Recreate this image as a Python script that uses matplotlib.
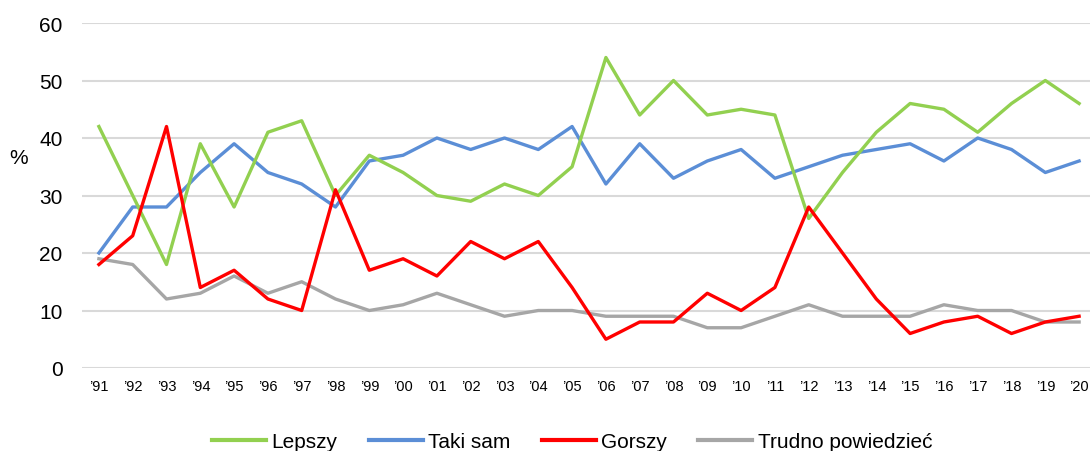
import matplotlib
matplotlib.use("Agg")
import matplotlib.pyplot as plt
from matplotlib.lines import Line2D

plt.rcParams['font.family'] = ['Liberation Sans', 'DejaVu Sans']

years = ["\u2019%02d" % (y % 100) for y in range(1991, 2021)]
lepszy = [42, 30, 18, 39, 28, 41, 43, 30, 37, 34, 30, 29, 32, 30, 35, 54, 44, 50, 44, 45, 44, 26, 34, 41, 46, 45, 41, 46, 50, 46]
taki_sam = [20, 28, 28, 34, 39, 34, 32, 28, 36, 37, 40, 38, 40, 38, 42, 32, 39, 33, 36, 38, 33, 35, 37, 38, 39, 36, 40, 38, 34, 36]
gorszy = [18, 23, 42, 14, 17, 12, 10, 31, 17, 19, 16, 22, 19, 22, 14, 5, 8, 8, 13, 10, 14, 28, 20, 12, 6, 8, 9, 6, 8, 9]
trudno = [19, 18, 12, 13, 16, 13, 15, 12, 10, 11, 13, 11, 9, 10, 10, 9, 9, 9, 7, 7, 9, 11, 9, 9, 9, 11, 10, 10, 8, 8]
series_names = ["Lepszy", "Taki sam", "Gorszy", "Trudno powiedzieć"]
yticks = [0, 10, 20, 30, 40, 50, 60]

colors = ["#92D050", "#5B8ED6", "#FF0000", "#A6A6A6"]

W, H = 1090, 452
fig = plt.figure(figsize=(W / 100, H / 100), dpi=100)
left, right = 82, 1096
bottom, top = 369, 24
ax = fig.add_axes([left / W, 1 - bottom / H, (right - left) / W, (bottom - top) / H])

x = list(range(len(years)))
data = [lepszy, taki_sam, gorszy, trudno]
zorders = [4, 3, 5, 2]
for vals, c, z, name in zip(data, colors, zorders, series_names):
    ax.plot(x, vals, color=c, lw=2.4, zorder=z, label=name)

ax.set_xlim(-0.5, len(years) - 0.5)
ax.set_ylim(0, 60)
ax.set_yticks(yticks)
ax.set_yticklabels([str(t) for t in yticks], fontsize=15)
ax.set_xticks(x)
ax.set_xticklabels(years, fontsize=10.5)
ax.tick_params(axis='both', length=0)
ax.tick_params(axis='y', pad=14)
ax.tick_params(axis='x', pad=8)
ax.grid(axis='y', color='#D9D9D9', lw=1.5, zorder=0)
ax.set_axisbelow(True)
for s in ax.spines.values():
    s.set_visible(False)

fig.text(19 / W, 1 - 158 / H, "%", fontsize=15, ha='center', va='center')

handles = [Line2D([0], [0], color=c, lw=3) for c in colors]
leg = fig.legend(handles, series_names, loc='center', bbox_to_anchor=(572 / W, 1 - 443 / H),
                 ncol=4, frameon=False, fontsize=15, handlelength=2.6, handletextpad=0.25,
                 columnspacing=1.5, borderpad=0, borderaxespad=0)

fig.savefig("out.png", dpi=100)
